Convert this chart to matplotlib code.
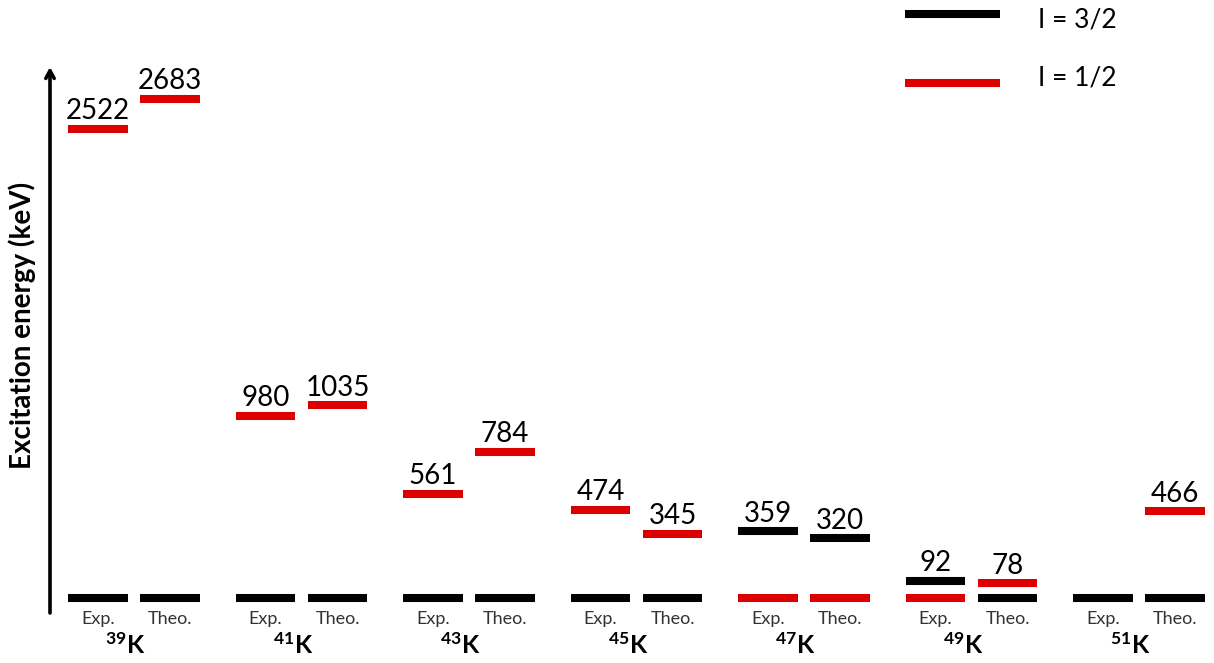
import matplotlib
matplotlib.use("Agg")
import matplotlib.pyplot as plt

plt.rcParams['font.family'] = ['Lato', 'DejaVu Sans']
plt.rcParams['mathtext.fontset'] = 'custom'
plt.rcParams['mathtext.rm'] = 'Lato:bold'
plt.rcParams['mathtext.it'] = 'Lato:bold'
plt.rcParams['mathtext.bf'] = 'Lato:bold'

# Level data for odd potassium isotopes (energies in keV)
isotopes = ['39', '41', '43', '45', '47', '49', '51']
exp_ground_spin = ['3/2', '3/2', '3/2', '3/2', '1/2', '1/2', '3/2']
theo_ground_spin = ['3/2', '3/2', '3/2', '3/2', '1/2', '3/2', '3/2']
exp_excited = [2522, 980, 561, 474, 359, 92, None]
exp_excited_spin = ['1/2', '1/2', '1/2', '1/2', '3/2', '3/2', None]
theo_excited = [2683, 1035, 784, 345, 320, 78, 466]
theo_excited_spin = ['1/2', '1/2', '1/2', '1/2', '3/2', '1/2', '1/2']

spin_colors = {'3/2': '#000000', '1/2': '#DD0000'}

W, H, DPI = 1214, 663, 100
fig = plt.figure(figsize=(W / DPI, H / DPI), dpi=DPI)
ax = fig.add_axes([0, 0, 1, 1])

# coordinate frame: group index on x, keV on y
px_per_kev = 0.186
ground_px = 598
ax.set_ylim(-(H - ground_px) / px_per_kev, ground_px / px_per_kev)
grp_px, grp_step = 134, 167.5
ax.set_xlim(-grp_px / grp_step, (W - grp_px) / grp_step)
ax.axis('off')

col_off = 0.215
half_w = 0.179
bar_lw = 5.8


def level(x, e, spin, label=True):
    ax.hlines(e, x - half_w, x + half_w, colors=spin_colors[spin],
              linewidth=bar_lw, capstyle='butt')
    if label:
        ax.annotate(f"{e}", (x, e), xytext=(0, 7), textcoords='offset points',
                    ha='center', va='baseline', fontsize=20, color='black')


for i, iso in enumerate(isotopes):
    xe, xt = i - col_off, i + col_off
    level(xe, 0, exp_ground_spin[i], label=False)
    level(xt, 0, theo_ground_spin[i], label=False)
    if exp_excited[i] is not None:
        level(xe, exp_excited[i], exp_excited_spin[i])
    if theo_excited[i] is not None:
        level(xt, theo_excited[i], theo_excited_spin[i])
    ax.annotate("Exp.", (xe, 0), xytext=(0, -15), textcoords='offset points',
                ha='center', va='center', fontsize=13, color='#333333')
    ax.annotate("Theo.", (xt, 0), xytext=(0, -15), textcoords='offset points',
                ha='center', va='center', fontsize=13, color='#333333')
    ax.annotate(r"$^{" + iso + r"}$K", (i - 0.05, 0), xytext=(0, -34),
                textcoords='offset points', ha='center', va='center',
                fontsize=18, fontweight='bold', color='black')

# vertical energy axis with open arrow head
x_axis = (50 - grp_px) / grp_step
ax.annotate("", xy=(x_axis, (ground_px - 67) / px_per_kev),
            xytext=(x_axis, (ground_px - 613) / px_per_kev),
            arrowprops=dict(arrowstyle='->,head_length=0.55,head_width=0.3',
                            lw=2.6, color='black', shrinkA=0, shrinkB=0))
fig.text(22 / W, 1 - 325 / H, "Excitation energy (keV)", rotation=90,
         ha='center', va='center', fontsize=20, fontweight='bold')

# legend
for yp, spin in [(14, '3/2'), (83, '1/2')]:
    yf = 1 - yp / H
    ax.plot([905 / W, 1000 / W], [yf, yf], transform=ax.transAxes,
            color=spin_colors[spin], lw=bar_lw, solid_capstyle='butt')
for yp, txt in [(20, "I = 3/2"), (78, "I = 1/2")]:
    fig.text(1038 / W, 1 - yp / H, txt, ha='left', va='center', fontsize=19)

fig.savefig("out.png", dpi=DPI)
